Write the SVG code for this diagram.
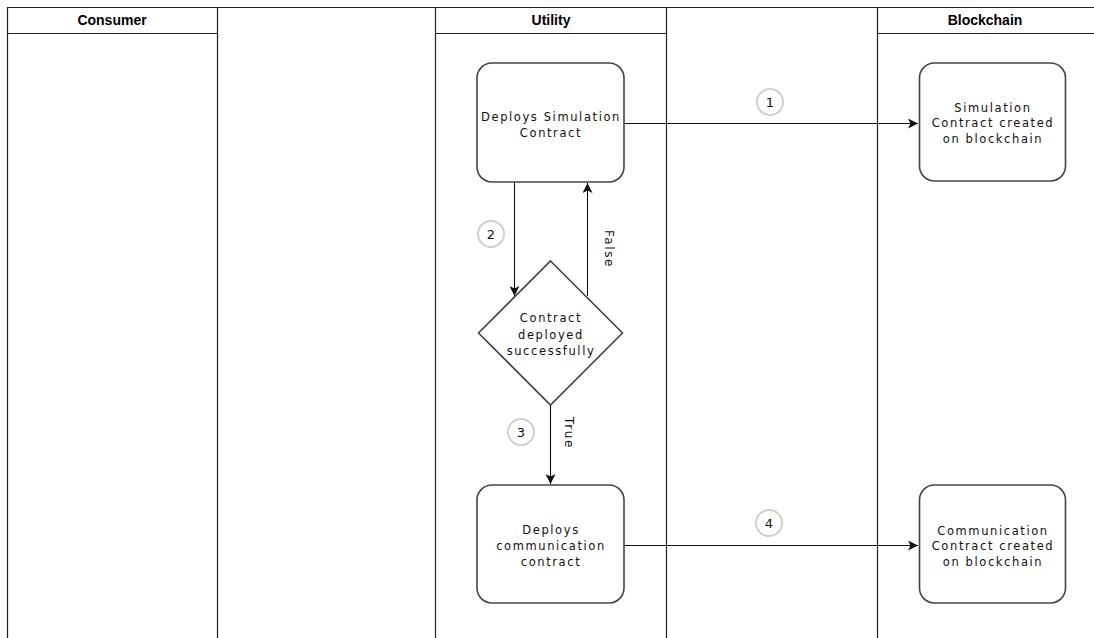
<svg xmlns="http://www.w3.org/2000/svg" width="1094" height="638" viewBox="0 0 1094 638">
  <style>
    .lane { fill: none; stroke: #222; stroke-width: 1.2; }
    .hdr { font-family: "Liberation Sans Narrow", "Liberation Sans", Arial, sans-serif; font-weight: bold; font-size: 14px; fill: #000; text-anchor: middle; }
    .box { fill: #fff; stroke: #444; stroke-width: 1.6; }
    .lbl { font-family: "DejaVu Sans", Verdana, sans-serif; font-size: 11.5px; letter-spacing: 1.6px; fill: #111; text-anchor: middle; }
    .edge { fill: none; stroke: #111; stroke-width: 1.1; }
    .step { fill: #fff; stroke: #d0d0d0; stroke-width: 2; }
    .num { font-family: "DejaVu Sans", Verdana, sans-serif; font-size: 13px; fill: #111; text-anchor: middle; }
    .cond { font-family: "DejaVu Sans", Verdana, sans-serif; font-size: 12px; letter-spacing: 1.6px; fill: #111; text-anchor: middle; }
  </style>
  <defs>
    <marker id="arrow" markerWidth="12" markerHeight="10" refX="10" refY="5" orient="auto" markerUnits="userSpaceOnUse">
      <path d="M0,0 L10,5 L0,10 L2.5,5 Z" fill="#111"/>
    </marker>
  </defs>
  <rect width="1094" height="638" fill="#fff"/>

  <!-- swimlanes -->
  <g id="lanes">
    <line class="lane" x1="7" y1="7.5" x2="1094" y2="7.5"/>
    <line class="lane" x1="7.5" y1="7" x2="7.5" y2="638"/>
    <line class="lane" x1="217.5" y1="7" x2="217.5" y2="638"/>
    <line class="lane" x1="435.5" y1="7" x2="435.5" y2="638"/>
    <line class="lane" x1="666.5" y1="7" x2="666.5" y2="638"/>
    <line class="lane" x1="877.5" y1="7" x2="877.5" y2="638"/>
    <line class="lane" x1="7" y1="33.5" x2="217" y2="33.5"/>
    <line class="lane" x1="435" y1="33.5" x2="666" y2="33.5"/>
    <line class="lane" x1="877" y1="33.5" x2="1094" y2="33.5"/>
    <text class="hdr" x="112" y="25">Consumer</text>
    <text class="hdr" x="551" y="25">Utility</text>
    <text class="hdr" x="985" y="25">Blockchain</text>
  </g>

  <!-- connectors -->
  <g id="connectors">
    <line class="edge" x1="624" y1="123.5" x2="918" y2="123.5" marker-end="url(#arrow)"/>
    <line class="edge" x1="514.5" y1="182" x2="514.5" y2="296" marker-end="url(#arrow)"/>
    <line class="edge" x1="587.5" y1="296" x2="587.5" y2="183" marker-end="url(#arrow)"/>
    <line class="edge" x1="550.5" y1="405" x2="550.5" y2="484" marker-end="url(#arrow)"/>
    <line class="edge" x1="624" y1="545.5" x2="918" y2="545.5" marker-end="url(#arrow)"/>
    <text class="cond" transform="translate(605,249) rotate(90)">False</text>
    <text class="cond" transform="translate(565,433) rotate(90)">True</text>
  </g>

  <!-- step markers -->
  <g id="step1"><circle class="step" cx="770" cy="102" r="13"/><text class="num" x="770" y="107">1</text></g>
  <g id="step2"><circle class="step" cx="491" cy="234" r="13"/><text class="num" x="491" y="239">2</text></g>
  <g id="step3"><circle class="step" cx="521" cy="432" r="13"/><text class="num" x="521" y="437">3</text></g>
  <g id="step4"><circle class="step" cx="769" cy="523" r="13"/><text class="num" x="769" y="528">4</text></g>

  <!-- nodes -->
  <g id="deploy-simulation">
    <rect class="box" x="477" y="63" width="147" height="119" rx="15"/>
    <text class="lbl" x="551" y="121">Deploys Simulation</text>
    <text class="lbl" x="551" y="137">Contract</text>
  </g>
  <g id="simulation-created">
    <rect class="box" x="919.5" y="63" width="146" height="118" rx="15"/>
    <text class="lbl" x="993" y="112">Simulation</text>
    <text class="lbl" x="993" y="127">Contract created</text>
    <text class="lbl" x="993" y="143">on blockchain</text>
  </g>
  <g id="deployed-check">
    <polygon class="box" points="550.5,261 622.5,333 550.5,405 478.5,333" stroke-width="1.2"/>
    <text class="lbl" x="551" y="322">Contract</text>
    <text class="lbl" x="551" y="339">deployed</text>
    <text class="lbl" x="551" y="355">successfully</text>
  </g>
  <g id="deploy-communication">
    <rect class="box" x="477" y="485" width="147" height="118" rx="15"/>
    <text class="lbl" x="551" y="534">Deploys</text>
    <text class="lbl" x="551" y="550">communication</text>
    <text class="lbl" x="551" y="566">contract</text>
  </g>
  <g id="communication-created">
    <rect class="box" x="919.5" y="485" width="146" height="118" rx="15"/>
    <text class="lbl" x="993" y="535">Communication</text>
    <text class="lbl" x="993" y="550">Contract created</text>
    <text class="lbl" x="993" y="566">on blockchain</text>
  </g>
</svg>
